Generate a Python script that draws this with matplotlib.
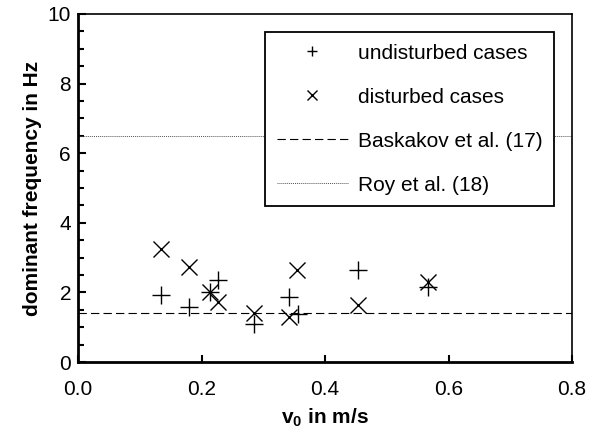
import numpy as np
import matplotlib
matplotlib.use('Agg')
import matplotlib.pyplot as plt

plt.rcParams['font.family'] = ['Liberation Sans', 'DejaVu Sans']
plt.rcParams['mathtext.fontset'] = 'custom'
plt.rcParams['mathtext.rm'] = 'Liberation Sans'
plt.rcParams['mathtext.bf'] = 'Liberation Sans:bold'
plt.rcParams['lines.scale_dashes'] = False

# undisturbed cases (+)
v0_undist = [0.135, 0.180, 0.213, 0.226, 0.285, 0.341, 0.357, 0.454, 0.567]
f_undist  = [1.93,  1.57,  2.02,  2.36,  1.10,  1.86,  1.38,  2.64,  2.15]

# disturbed cases (x)
v0_dist = [0.135, 0.180, 0.213, 0.226, 0.285, 0.341, 0.355, 0.454, 0.567]
f_dist  = [3.24,  2.72,  2.02,  1.73,  1.40,  1.28,  2.64,  1.64,  2.31]

# literature values
baskakov_f = 1.4
roy_f = 6.5

fig = plt.figure(figsize=(5.92, 4.37), dpi=100)
ax = fig.add_axes([78/592, 75/437, 494/592, 348/437])

ax.plot(v0_undist, f_undist, ls='none', marker='+', ms=12.5, mew=1.0, color='black',
		label='undisturbed cases')
ax.plot(v0_dist, f_dist, ls='none', marker='x', ms=11, mew=1.0, color='black',
		label='disturbed cases')
ax.axhline(baskakov_f, color='black', lw=0.8, dashes=(6, 3), label='Baskakov et al. (17)')
ax.axhline(roy_f, color='#555555', lw=0.7, ls=(0, (0.7, 0.7)), label='Roy et al. (18)')

ax.set_xlim(0, 0.8)
ax.set_ylim(0, 10)
ax.set_xticks(np.arange(0, 0.81, 0.2))
ax.set_xticklabels(['%.1f' % t for t in np.arange(0, 0.81, 0.2)])
ax.set_yticks(np.arange(0, 11, 2))
ax.set_yticks(np.arange(0, 10.1, 0.5), minor=True)

ax.tick_params(axis='both', which='both', direction='in', labelsize=15, color='black')
ax.tick_params(axis='y', which='major', length=6, width=1.5, pad=5)
ax.tick_params(axis='y', which='minor', length=4, width=1.5)
ax.tick_params(axis='x', which='major', length=5, width=1.5, pad=13)

ax.spines['left'].set_linewidth(2)
ax.spines['bottom'].set_linewidth(2)
ax.spines['top'].set_linewidth(1.2)
ax.spines['right'].set_linewidth(1.2)

ax.set_ylabel('dominant frequency in Hz', fontsize=15, fontweight='bold', labelpad=4)
ax.set_xlabel(r'v$_{\mathbf{0}}$ in m/s', fontsize=15, fontweight='bold', labelpad=5)

leg = ax.legend(loc='upper right', bbox_to_anchor=(0.964, 0.948), fontsize=15,
				frameon=True, fancybox=False, edgecolor='black', framealpha=1,
				handlelength=3.4, handletextpad=0.5, labelspacing=1.2,
				borderpad=0.55, borderaxespad=0, markerscale=0.6)
leg.get_frame().set_linewidth(1.3)

fig.savefig('out.png', dpi=100)
